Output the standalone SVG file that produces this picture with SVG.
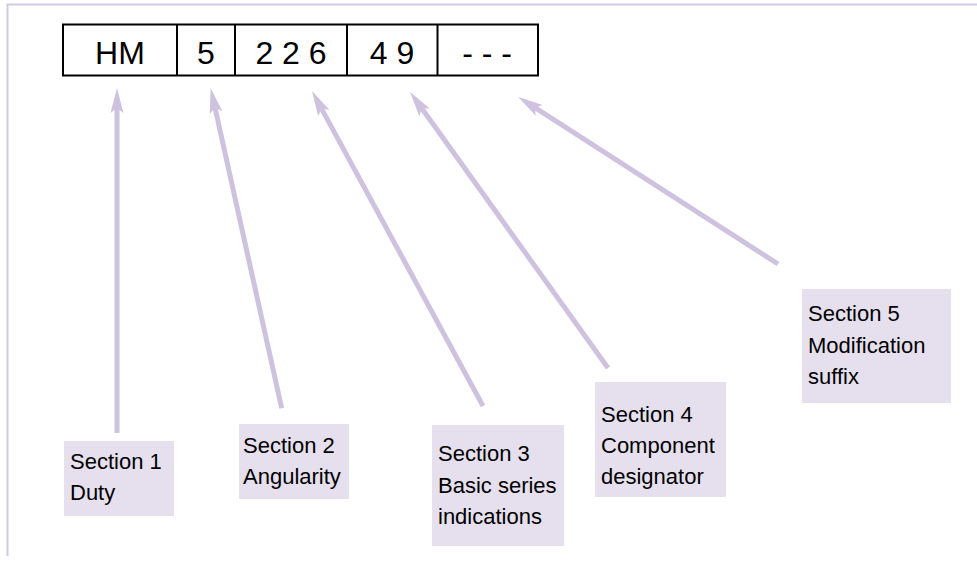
<svg xmlns="http://www.w3.org/2000/svg" width="977" height="564" viewBox="0 0 977 564">
<style>
.frame{stroke:#d4c9e3;stroke-width:2;fill:none}
.cell{fill:#fff;stroke:#000;stroke-width:2}
.ct{font-family:"Liberation Sans",Arial,sans-serif;font-size:32px;fill:#000;text-anchor:middle}
.arr{stroke:#cfc2df;stroke-width:5;fill:none}
.lbl{fill:#e6e0ee}
.lt{font-family:"Liberation Sans",Arial,sans-serif;font-size:22px;fill:#000}
</style>
<defs>
<marker id="ah" markerUnits="userSpaceOnUse" viewBox="-6 -8 27 16" refX="0" refY="0" markerWidth="27" markerHeight="16" orient="auto">
<path d="M20,0 L-5,-6.5 L0,0 L-5,6.5 Z" fill="#cfc2df"/>
</marker>
</defs>
<rect width="977" height="564" fill="#fff"/>
<path class="frame" d="M977,4.5 H7.5 V556"/>
<g id="code">
<rect class="cell" x="63" y="24.5" width="475" height="51"/>
<line x1="177" y1="24.5" x2="177" y2="75.5" stroke="#000" stroke-width="2"/>
<line x1="235" y1="24.5" x2="235" y2="75.5" stroke="#000" stroke-width="2"/>
<line x1="347" y1="24.5" x2="347" y2="75.5" stroke="#000" stroke-width="2"/>
<line x1="437.5" y1="24.5" x2="437.5" y2="75.5" stroke="#000" stroke-width="2"/>
<text class="ct" x="120" y="63.5">HM</text>
<text class="ct" x="206" y="63.5">5</text>
<text class="ct" x="291" y="63.5" xml:space="preserve">2 2 6</text>
<text class="ct" x="392" y="63.5" xml:space="preserve">4 9</text>
<text class="ct" x="487" y="63.5" xml:space="preserve">- - -</text>
</g>
<g id="connectors">
<line class="arr" x1="117" y1="433" x2="117" y2="108" marker-end="url(#ah)"/>
<line class="arr" x1="281.7" y1="408.3" x2="215" y2="107.8" marker-end="url(#ah)"/>
<line class="arr" x1="483" y1="406" x2="321.5" y2="108.6" marker-end="url(#ah)"/>
<line class="arr" x1="608" y1="368" x2="421.7" y2="108.3" marker-end="url(#ah)"/>
<line class="arr" x1="778" y1="264" x2="535" y2="107.7" marker-end="url(#ah)"/>
</g>
<g id="section1">
<rect class="lbl" x="64" y="441" width="110" height="75"/>
<text class="lt" x="70" y="469">Section 1</text>
<text class="lt" x="70" y="500">Duty</text>
</g>
<g id="section2">
<rect class="lbl" x="239" y="424" width="110" height="75"/>
<text class="lt" x="243" y="453">Section 2</text>
<text class="lt" x="243" y="484">Angularity</text>
</g>
<g id="section3">
<rect class="lbl" x="432" y="425" width="132" height="121"/>
<text class="lt" x="438" y="461">Section 3</text>
<text class="lt" x="438" y="493">Basic series</text>
<text class="lt" x="438" y="524">indications</text>
</g>
<g id="section4">
<rect class="lbl" x="595" y="382" width="131" height="115"/>
<text class="lt" x="601" y="422">Section 4</text>
<text class="lt" x="601" y="453">Component</text>
<text class="lt" x="601" y="484">designator</text>
</g>
<g id="section5">
<rect class="lbl" x="802" y="289" width="149" height="114"/>
<text class="lt" x="808" y="321">Section 5</text>
<text class="lt" x="808" y="353">Modification</text>
<text class="lt" x="808" y="384">suffix</text>
</g>
</svg>
